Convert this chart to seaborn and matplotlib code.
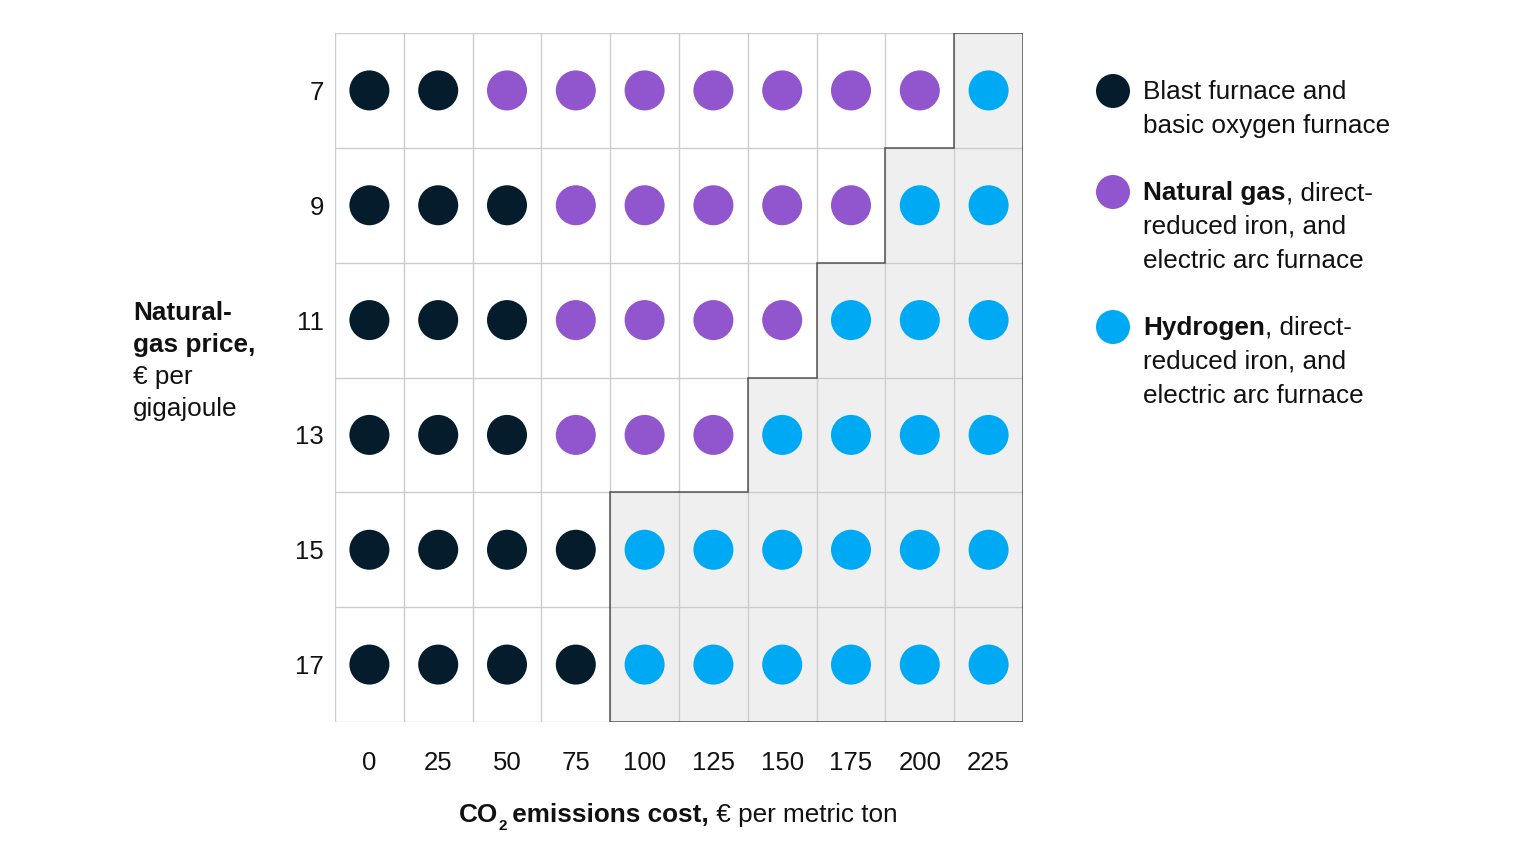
import matplotlib
matplotlib.use("Agg")
import matplotlib.pyplot as plt
import seaborn as sns
import pandas as pd

# === Data ===
co2_costs = [0, 25, 50, 75, 100, 125, 150, 175, 200, 225]
gas_prices = [7, 9, 11, 13, 15, 17]
# D = blast furnace, P = natural gas DRI, H = hydrogen DRI
route_rows = [
    "DDPPPPPPPH",
    "DDDPPPPPHH",
    "DDDPPPPHHH",
    "DDDPPPHHHH",
    "DDDDHHHHHH",
    "DDDDHHHHHH",
]
route_names = {"D": "Blast furnace", "P": "Natural gas", "H": "Hydrogen"}
palette = {"Blast furnace": "#051c2c", "Natural gas": "#9155cd", "Hydrogen": "#00a9f4"}

records = []
for i, price in enumerate(gas_prices):
    for j, cost in enumerate(co2_costs):
        records.append({"col": j, "row": i, "route": route_names[route_rows[i][j]]})
df = pd.DataFrame(records)

# === Style ===
sns.set_theme(style="white")
plt.rcParams["font.family"] = ["Liberation Sans", "DejaVu Sans"]
txt = "#111111"

fig = plt.figure(figsize=(15.36, 8.64), dpi=100)
ax = fig.add_axes([335 / 1536, 142 / 864, 688 / 1536, 689 / 864])

ncol, nrow = len(co2_costs), len(gas_prices)

# shaded hydrogen region
for i in range(nrow):
    for j in range(ncol):
        if route_rows[i][j] == "H":
            ax.add_patch(plt.Rectangle((j - 0.5, i - 0.5), 1, 1, facecolor="#efefef",
                                       edgecolor="none", zorder=0))

# light grid
for k in range(ncol + 1):
    ax.plot([k - 0.5, k - 0.5], [-0.5, nrow - 0.5], color="#cccccc", lw=1, zorder=1)
for k in range(nrow + 1):
    ax.plot([-0.5, ncol - 0.5], [k - 0.5, k - 0.5], color="#cccccc", lw=1, zorder=1)

# dark border around hydrogen region
def is_h(i, j):
    return 0 <= i < nrow and 0 <= j < ncol and route_rows[i][j] == "H"

edge = dict(color="#555555", lw=1.1, zorder=2)
for i in range(nrow):
    for j in range(ncol):
        if not is_h(i, j):
            continue
        if not is_h(i - 1, j):
            ax.plot([j - 0.5, j + 0.5], [i - 0.5, i - 0.5], **edge)
        if not is_h(i + 1, j):
            ax.plot([j - 0.5, j + 0.5], [i + 0.5, i + 0.5], **edge)
        if not is_h(i, j - 1):
            ax.plot([j - 0.5, j - 0.5], [i - 0.5, i + 0.5], **edge)
        if not is_h(i, j + 1):
            ax.plot([j + 0.5, j + 0.5], [i - 0.5, i + 0.5], **edge)

# dots
sns.scatterplot(data=df, x="col", y="row", hue="route", palette=palette, s=830,
                linewidth=0, legend=False, ax=ax, zorder=3)

ax.set_xlim(-0.5, ncol - 0.5)
ax.set_ylim(nrow - 0.5, -0.5)
ax.set_xticks(range(ncol))
ax.set_xticklabels([str(c) for c in co2_costs])
ax.set_yticks(range(nrow))
ax.set_yticklabels([str(p) for p in gas_prices])
ax.tick_params(axis="x", length=0, pad=21, labelsize=18.5, labelcolor=txt)
ax.tick_params(axis="y", length=0, pad=8, labelsize=18.5, labelcolor=txt)
ax.set_xlabel("")
ax.set_ylabel("")
for s in ax.spines.values():
    s.set_visible(False)

# === Y axis label ===
fs = 18.8
ylab = [("Natural-", "bold"), ("gas price,", "bold"), ("€ per", "normal"), ("gigajoule", "normal")]
for k, (line, w) in enumerate(ylab):
    fig.text(133 / 1536, 1 - (313 + 32 * k) / 864, line, fontsize=fs, fontweight=w,
             color=txt, ha="left", va="center")

# === X axis label ===
t1 = fig.text(459 / 1536, 1 - 815 / 864, "CO", fontsize=fs, fontweight="bold",
              color=txt, ha="left", va="center")
ax.annotate("2", xy=(1, 0), xycoords=t1, xytext=(0.5, -4), textcoords="offset points",
            fontsize=11, fontweight="bold", color=txt, ha="left", va="bottom")
t3 = ax.annotate(" emissions cost,", xy=(1, 0), xycoords=t1, xytext=(5, 0),
                 textcoords="offset points", fontsize=fs, fontweight="bold",
                 color=txt, ha="left", va="bottom")
ax.annotate(" € per metric ton", xy=(1, 0), xycoords=t3, fontsize=fs,
            color=txt, ha="left", va="bottom")

# === Legend ===
legend_items = [
    ("Blast furnace", [("", "Blast furnace and"), ("", "basic oxygen furnace")], 92),
    ("Natural gas", [("Natural gas", ", direct-"), ("", "reduced iron, and"),
                     ("", "electric arc furnace")], 193),
    ("Hydrogen", [("Hydrogen", ", direct-"), ("", "reduced iron, and"),
                  ("", "electric arc furnace")], 328),
]
for key, lines, ytop in legend_items:
    fig.patches.append(matplotlib.patches.Ellipse((1113 / 1536, 1 - (ytop - 1) / 864),
                                                  34 / 1536, 34 / 864,
                                                  transform=fig.transFigure,
                                                  facecolor=palette[key], edgecolor="none"))
    for k, (bold, normal) in enumerate(lines):
        yy = 1 - (ytop + 34 * k) / 864
        if bold:
            tb = fig.text(1143 / 1536, yy, bold, fontsize=fs, fontweight="bold",
                          color=txt, ha="left", va="center")
            ax.annotate(normal, xy=(1, 0), xycoords=tb, fontsize=fs, color=txt,
                        ha="left", va="bottom")
        else:
            fig.text(1143 / 1536, yy, normal, fontsize=fs, color=txt, ha="left", va="center")

plt.savefig("out.png", dpi=100)
plt.close()
